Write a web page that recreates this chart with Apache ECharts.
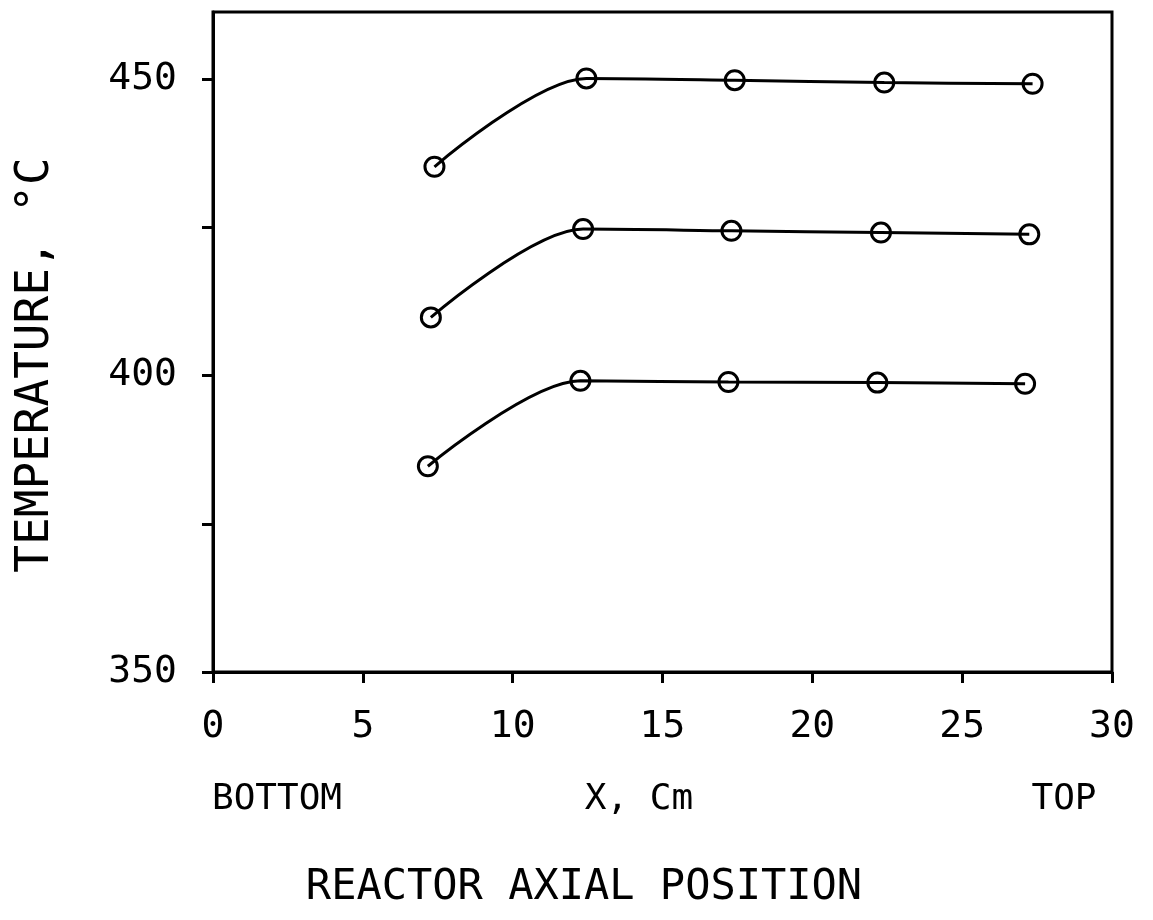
<!DOCTYPE html>
<html>
<head>
<meta charset="utf-8">
<script src="https://cdn.jsdelivr.net/npm/echarts@6/dist/echarts.min.js"></script>
<style>
    html, body { margin: 0; padding: 0; background: #fff; }
    #chart { width: 1153px; height: 920px; }
</style>
</head>
<body>
<div id="chart"></div>
<script>
// axial position, cm
var x_top = [7.39, 12.46, 17.41, 22.40, 27.35];
var x_mid = [7.27, 12.35, 17.30, 22.29, 27.24];
var x_bot = [7.17, 12.26, 17.20, 22.17, 27.10];
// temperature, C
var t_top = [435.2, 450.1, 449.8, 449.4, 449.2];
var t_mid = [409.8, 424.7, 424.4, 424.1, 423.8];
var t_bot = [384.7, 399.1, 398.9, 398.8, 398.6];

var x_ticks = [0, 5, 10, 15, 20, 25, 30];
var y_ticks = [350, 375, 400, 425, 450];
var y_labels = [350, 400, 450];

var FONT = '"DejaVu Sans Mono", monospace';

function pairs(xs, ys) {
    var out = [];
    for (var i = 0; i < xs.length; i++) {
        out.push([xs[i], ys[i]]);
    }
    return out;
}

function line_series(xs, ys) {
    return {
        type: 'line',
        data: pairs(xs, ys),
        smooth: 0.3,
        symbol: 'circle',
        symbolSize: 19,
        lineStyle: { color: '#000', width: 3 },
        itemStyle: { color: 'rgba(0,0,0,0)', borderColor: '#000', borderWidth: 3 },
        animation: false
    };
}

function label_text(x, y, text, size, rot) {
    return {
        type: 'text',
        x: x,
        y: y,
        rotation: rot || 0,
        style: {
            text: text,
            fill: '#000',
            font: size + 'px ' + FONT,
            textAlign: 'center',
            textVerticalAlign: 'middle'
        }
    };
}

var myChart = echarts.init(document.getElementById('chart'));
var option = {
    backgroundColor: '#fff',
    grid: {
        left: 213, right: 41, top: 12, bottom: 248,
        show: true,
        borderColor: '#000',
        borderWidth: 3
    },
    xAxis: {
        type: 'value',
        min: 0,
        max: 30,
        interval: 5,
        axisLine: { lineStyle: { color: '#000', width: 3 } },
        axisTick: { show: true, inside: false, length: 11, lineStyle: { color: '#000', width: 3 } },
        axisLabel: { color: '#000', fontSize: 38, fontFamily: FONT, margin: 36, customValues: x_ticks },
        splitLine: { show: false }
    },
    yAxis: {
        type: 'value',
        min: 350,
        max: 461.3,
        interval: 25,
        axisLine: { show: true, lineStyle: { color: '#000', width: 3 } },
        axisTick: { show: true, inside: false, length: 11, lineStyle: { color: '#000', width: 3 }, customValues: y_ticks },
        axisLabel: { color: '#000', fontSize: 38, fontFamily: FONT, margin: 36, customValues: y_labels },
        splitLine: { show: false }
    },
    graphic: [
        label_text(36, 365, 'TEMPERATURE, \u00b0C', 46, Math.PI / 2),
        label_text(277, 800, 'BOTTOM', 36),
        label_text(639, 800, 'X, Cm', 36),
        label_text(1064, 800, 'TOP', 36),
        label_text(584, 888, 'REACTOR AXIAL POSITION', 42)
    ],
    series: [
        line_series(x_top, t_top),
        line_series(x_mid, t_mid),
        line_series(x_bot, t_bot)
    ]
};
myChart.setOption(option);
</script>
</body>
</html>
